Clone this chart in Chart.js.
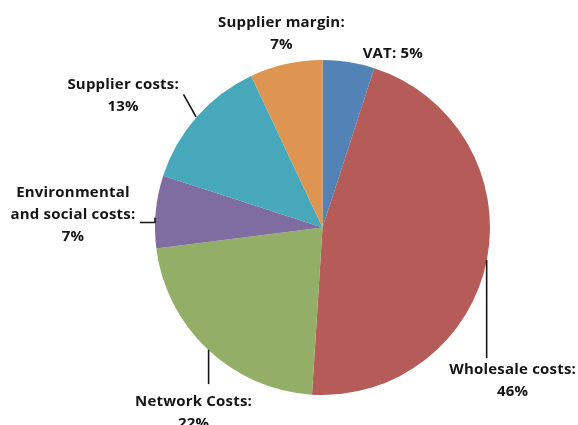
<!DOCTYPE html>
<html>
<head>
<meta charset="utf-8">
<script src="https://cdn.jsdelivr.net/npm/chart.js@4.4.1/dist/chart.umd.min.js"></script>
<style>
  html, body { margin: 0; padding: 0; background: #ffffff; }
  #wrap { width: 578px; height: 425px; position: relative; }
</style>
</head>
<body>
<div id="wrap"><canvas id="myChart"></canvas></div>
<script>
// slices, clockwise from 12 o'clock
const categories = ['VAT', 'Wholesale costs', 'Network Costs', 'Environmental and social costs', 'Supplier costs', 'Supplier margin'];
const shares = [5, 46, 22, 7, 13, 7];
const sliceColors = ['#5282b6', '#b55c58', '#93ae66', '#7f6ca0', '#47a8bc', '#de9552'];

// where each label sits, in units of the pie radius from its centre
// leader: polyline points, same units
const labelLayout = [
  { text: [0.42, -1.04], oneLine: true, leader: null },
  { text: [1.135, 0.85], leader: [[0.98, 0.78], [0.98, 0.195]] },
  { text: [-0.77, 1.04], leader: [[-0.68, 0.935], [-0.68, 0.73]] },
  { text: [-1.49, -0.205], breakAt: 1, leader: [[-1.09, -0.03], [-1.0, -0.03], [-1.0, -0.06]] },
  { text: [-1.19, -0.85], leader: [[-0.83, -0.795], [-0.755, -0.66]] },
  { text: [-0.245, -1.225], leader: null }
];

const lineGap = 22;
const labelFont = 'bold 15px "Open Sans", "Liberation Sans", sans-serif';

const outsideLabels = {
  id: 'outsideLabels',
  afterDatasetsDraw(chart) {
    const ctx = chart.ctx;
    const arcs = chart.getDatasetMeta(0).data;
    ctx.save();
    ctx.font = labelFont;
    ctx.letterSpacing = '0.2px';
    ctx.fillStyle = '#151515';
    ctx.strokeStyle = '#151515';
    ctx.lineWidth = 1.6;
    ctx.textAlign = 'center';
    ctx.textBaseline = 'middle';
    arcs.forEach((arc, i) => {
      const lay = labelLayout[i];
      const r = arc.outerRadius;
      const cx = arc.x, cy = arc.y;
      const name = categories[i] + ':';
      const pct = chart.data.datasets[0].data[i] + '%';
      let lines;
      if (lay.oneLine) {
        lines = [name + ' ' + pct];
      } else if (lay.breakAt) {
        const words = name.split(' ');
        lines = [words.slice(0, lay.breakAt).join(' '), words.slice(lay.breakAt).join(' '), pct];
      } else {
        lines = [name, pct];
      }
      const tx = cx + lay.text[0] * r;
      const ty = cy + lay.text[1] * r;
      lines.forEach((ln, k) => ctx.fillText(ln, tx, ty + k * lineGap));
      if (lay.leader) {
        ctx.beginPath();
        lay.leader.forEach((p, k) => {
          const px = cx + p[0] * r, py = cy + p[1] * r;
          if (k === 0) ctx.moveTo(px, py); else ctx.lineTo(px, py);
        });
        ctx.stroke();
      }
    });
    ctx.restore();
  }
};

new Chart(document.getElementById('myChart'), {
  type: 'pie',
  data: {
    labels: categories,
    datasets: [{
      data: shares,
      backgroundColor: sliceColors,
      borderWidth: 0
    }]
  },
  options: {
    responsive: true,
    maintainAspectRatio: false,
    animation: false,
    layout: { padding: { left: 155, right: 88, top: 60, bottom: 30 } },
    plugins: {
      legend: { display: false },
      tooltip: { enabled: false }
    }
  },
  plugins: [outsideLabels]
});
</script>
</body>
</html>
